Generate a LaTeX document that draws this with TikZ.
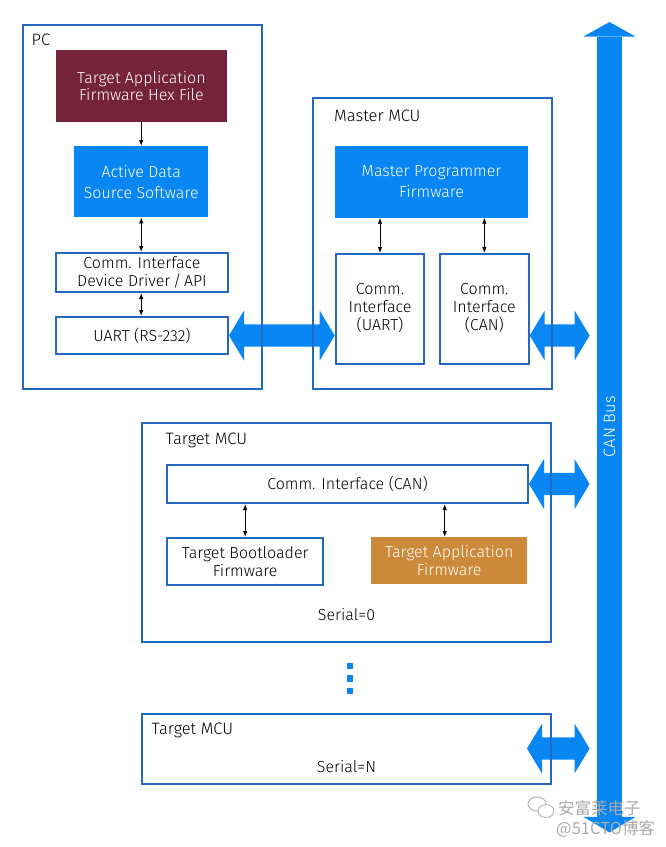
\documentclass[tikz,border=0pt]{standalone}
\usepackage{fontspec}
\setmainfont{Fira Sans}[UprightFont={* Light}]
\newfontfamily\cjk{Noto Sans CJK SC}
\usetikzlibrary{arrows.meta,calc}
\definecolor{bordblue}{RGB}{36,104,192}
\definecolor{fillblue}{RGB}{8,134,243}
\definecolor{hexred}{RGB}{116,35,58}
\definecolor{ochre}{RGB}{205,138,58}
\definecolor{wmgray}{RGB}{170,170,170}
\pgfdeclarelayer{bg}
\pgfdeclarelayer{busarrows}
\pgfsetlayers{bg,busarrows,main}
\newcommand\boxfont{\fontsize{16}{17.6}\selectfont}
\newcommand\bluefont{\fontsize{16}{21}\selectfont}
\newcommand\titlefont{\fontsize{16.5}{18}\selectfont}
% wide double arrow from tip #1 to tip #2 (same height)
\newcommand\wideArrow[2]{%
  \fill[fillblue] let \p1=(#1), \p2=(#2) in
   (\x1,\y1) -- (\x1+15pt,\y1+25pt) -- (\x1+15pt,\y1+11.2pt) -- (\x2-15pt,\y1+11.2pt)
   -- (\x2-15pt,\y1+25pt) -- (\x2,\y1) -- (\x2-15pt,\y1-25pt) -- (\x2-15pt,\y1-11.2pt)
   -- (\x1+15pt,\y1-11.2pt) -- (\x1+15pt,\y1-25pt) -- cycle;}
\begin{document}
\begin{tikzpicture}[x=1pt,y=-1pt,
  outer/.style={draw=bordblue, line width=2pt, anchor=north west, inner sep=0pt},
  plainbox/.style={draw=bordblue, line width=2pt, fill=white, anchor=north west,
    inner sep=0pt, align=center, font=\boxfont},
  solidbox/.style={fill=#1, text=white, anchor=north west, inner sep=0pt, align=center},
  title/.style={anchor=west, inner sep=0pt, font=\titlefont},
  link/.style={line width=0.9pt, {Latex[length=6pt,width=4.5pt]}-{Latex[length=6pt,width=4.5pt]}},
  feed/.style={line width=0.9pt, -{Latex[length=6pt,width=4.5pt]}},
  dotsq/.style={fill=fillblue, minimum size=6.5pt, inner sep=0pt},
  wm/.style={text=wmgray, anchor=west, inner sep=0pt, font=\cjk\fontsize{16.5}{18}\selectfont},
]
\begin{pgfonlayer}{bg}
  \fill[white] (0,0) rectangle (666,847);
\end{pgfonlayer}
\useasboundingbox (0,0) rectangle (666,847);

% ---------- PC ----------
\node[outer, minimum width=239pt, minimum height=363.5pt] (pc) at (22,24) {};
\node[title] (pct) at (31.5,39.5) {PC};
\node[solidbox=hexred, font=\boxfont, minimum width=171pt, minimum height=71.7pt] (hex) at (55.7,50)
  {Target Application\\Firmware Hex File};
\node[solidbox=fillblue, font=\bluefont, minimum width=134pt, minimum height=71pt] (ads) at (74,146)
  {Active Data\\Source Software};
\node[plainbox, minimum width=172pt, minimum height=39pt] (drv) at (55,252)
  {Comm. Interface\\Device Driver\,/\,API};
\node[plainbox, minimum width=172pt, minimum height=37pt] (uart) at (55,316) {UART (RS-232)};

% ---------- Master MCU ----------
\node[outer, minimum width=239pt, minimum height=291pt] (mst) at (312,97) {};
\node[title] (mstt) at (334,116) {Master MCU};
\node[solidbox=fillblue, font=\bluefont, minimum width=192.7pt, minimum height=71.3pt] (mpf) at (335,146)
  {Master Programmer\\Firmware};
\node[plainbox, minimum width=88.6pt, minimum height=110.3pt] (mcuart) at (334.7,253)
  {\raisebox{4.5pt}{\begin{tabular}{@{}c@{}}Comm.\\Interface\\(UART)\end{tabular}}};
\node[plainbox, minimum width=88.7pt, minimum height=110.3pt] (mccan) at (439,253)
  {\raisebox{4.5pt}{\begin{tabular}{@{}c@{}}Comm.\\Interface\\(CAN)\end{tabular}}};

% ---------- CAN bus ----------
\node[fill=fillblue, minimum width=25.5pt, minimum height=780pt, inner sep=0pt] (bus) at (609.5,426.7) {};
\fill[fillblue] ($(bus.north west)+(-13pt,0pt)$) -- ($(bus.north)+(0pt,14.5pt)$)
  -- ($(bus.north east)+(13pt,0pt)$) -- cycle;
\fill[fillblue] ($(bus.south west)+(-13pt,0pt)$) -- ($(bus.south)+(0pt,-15.5pt)$)
  -- ($(bus.south east)+(13pt,0pt)$) -- cycle;
\node[rotate=90, text=white, inner sep=0pt, font=\titlefont] (buslabel) at (bus.center) {CAN Bus};

% ---------- Target MCU (Serial=0) ----------
\node[outer, minimum width=409.5pt, minimum height=219pt] (t0) at (140.5,422) {};
\node[title] (t0t) at (165.5,440) {Target MCU};
\node[plainbox, minimum width=361pt, minimum height=38pt] (tcan) at (166,464) {Comm. Interface (CAN)};
\node[plainbox, minimum width=156.3pt, minimum height=47pt] (tboot) at (166,537)
  {Target Bootloader\\Firmware};
\node[solidbox=ochre, font=\boxfont, minimum width=156pt, minimum height=47pt] (tapp) at (371,537)
  {Target Application\\Firmware};
\node[inner sep=0pt, font=\boxfont] (ser0) at (346.5,615) {Serial=0};

% ---------- dots ----------
\node[dotsq] (d1) at (350,666) {};
\node[dotsq] (d2) at (350,678.7) {};
\node[dotsq] (d3) at (350,691) {};

% ---------- Target MCU (Serial=N) ----------
\node[outer, minimum width=409.5pt, minimum height=70.5pt] (tn) at (140.5,712.5) {};
\node[title] (tnt) at (151.5,730.5) {Target MCU};
\node[inner sep=0pt, font=\boxfont] (sern) at (346.5,766.5) {Serial=N};

% ---------- small arrows ----------
\draw[feed] (hex.south -| ads.north) -- (ads.north);
\draw[link] (ads.south) -- (ads.south |- drv.north);
\draw[link] (ads.south |- drv.south) -- (ads.south |- uart.north);
\draw[link] (mcuart.north |- mpf.south) -- (mcuart.north);
\draw[link] (mccan.north |- mpf.south) -- (mccan.north);
\draw[link] (tcan.south -| tboot.north) -- (tboot.north);
\draw[link] ($(tcan.south -| tapp.north)+(-4.5pt,0pt)$) -- ($(tapp.north)+(-4.5pt,0pt)$);

% ---------- wide double arrows (under the box frames) ----------
\coordinate (tipM) at ($(uart.east -| bus.west)+(-7pt,0pt)$);
\coordinate (tipT) at ($(tcan.east -| bus.west)+(-7pt,0pt)$);
\coordinate (tnL) at (527,748.5);
\coordinate (tipN) at ($(tnL -| bus.west)+(-7pt,0pt)$);
\begin{pgfonlayer}{busarrows}
  \wideArrow{uart.east}{uart.east -| mcuart.west}
  \wideArrow{uart.east -| mccan.east}{tipM}
  \wideArrow{tcan.east}{tipT}
  \wideArrow{tnL}{tipN}
\end{pgfonlayer}

% ---------- watermark ----------
\draw[wmgray, line width=0.8pt, fill=white] (537,804) ellipse [x radius=9pt, y radius=7pt];
\draw[wmgray, line width=0.8pt, fill=white] (546,811) ellipse [x radius=8pt, y radius=6.5pt];
\node[wm] (wm1) at (558,808) {安富莱电子};
\node[wm] (wm2) at (556,829) {@51CTO博客};
\end{tikzpicture}
\end{document}
